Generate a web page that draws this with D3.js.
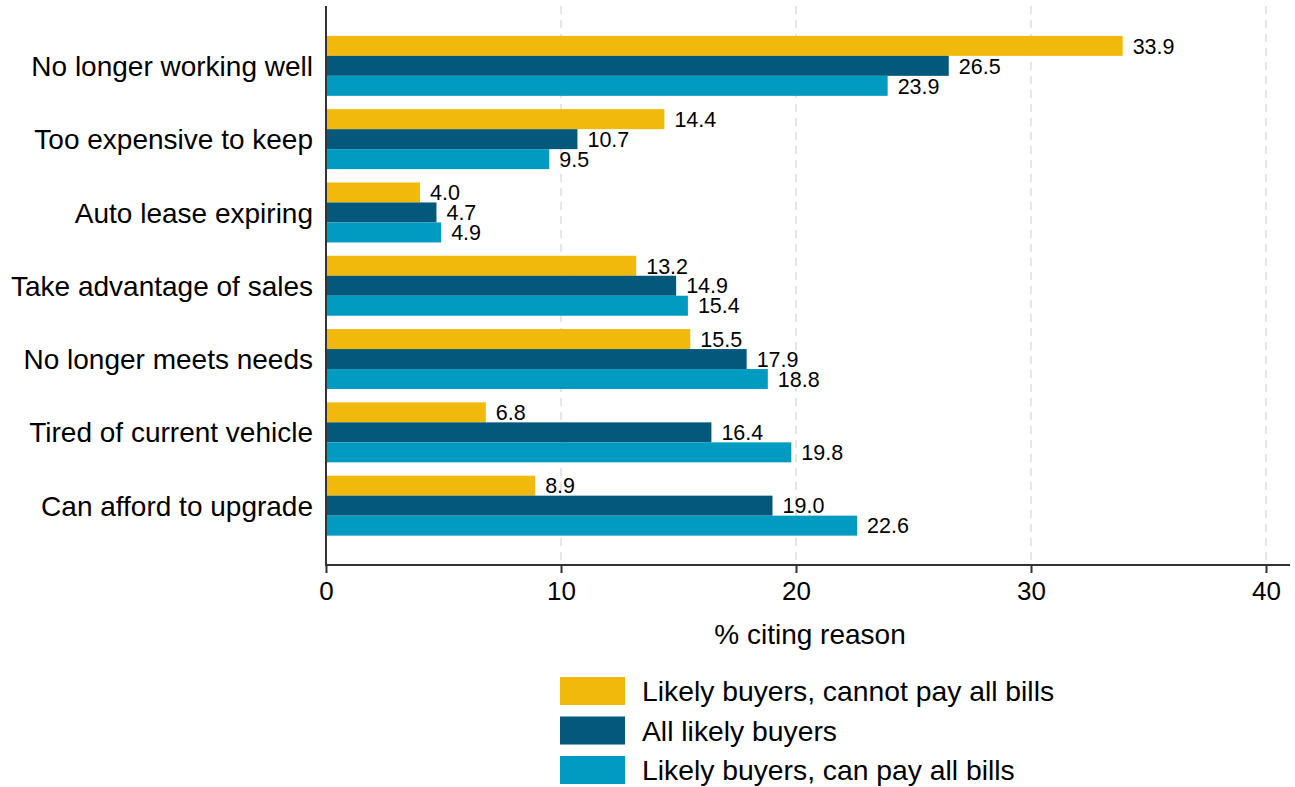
<!DOCTYPE html>
<html>
<head>
<meta charset="utf-8">
<script src="https://cdn.jsdelivr.net/npm/d3@7"></script>
<style>
  html, body { margin: 0; padding: 0; background: #fff; }
  svg { display: block; }
  text { font-family: "Liberation Sans", Arial, sans-serif; fill: #000; }
</style>
</head>
<body>
<svg id="chart" width="1295" height="787"></svg>
<script>
const categories = ["No longer working well", "Too expensive to keep", "Auto lease expiring",
  "Take advantage of sales", "No longer meets needs", "Tired of current vehicle", "Can afford to upgrade"];
const seriesNames = ["Likely buyers, cannot pay all bills", "All likely buyers", "Likely buyers, can pay all bills"];
const cannotPay = [33.9, 14.4, 4.0, 13.2, 15.5, 6.8, 8.9];
const allBuyers = [26.5, 10.7, 4.7, 14.9, 17.9, 16.4, 19.0];
const canPay = [23.9, 9.5, 4.9, 15.4, 18.8, 19.8, 22.6];
const xTicks = [0, 10, 20, 30, 40];
const colors = ["#F0B90C", "#03587B", "#019AC0"];

const seriesValues = [cannotPay, allBuyers, canPay];
const svg = d3.select("#chart");

const x = d3.scaleLinear().domain([0, 40]).range([326, 1266]);
const y = d3.scaleBand().domain(categories).range([29.2, 542.3]).paddingInner(0.182).paddingOuter(0.091);
const ySub = d3.scaleBand().domain(d3.range(3)).range([0, y.bandwidth()]);
const plotTop = 6, plotBottom = 565;

// grid lines
svg.append("g").selectAll("line").data(xTicks.filter(d => d > 0)).join("line")
  .attr("x1", d => x(d)).attr("x2", d => x(d))
  .attr("y1", plotTop).attr("y2", plotBottom)
  .attr("stroke", "#e6e6e6").attr("stroke-width", 2).attr("stroke-dasharray", "8,6");

// bars
const groups = svg.append("g").selectAll("g").data(categories).join("g")
  .attr("transform", d => `translate(0,${y(d)})`);
groups.each(function(cat, ci) {
  const g = d3.select(this);
  seriesValues.forEach((vals, si) => {
    const v = vals[ci];
    g.append("rect")
      .attr("x", x(0)).attr("y", ySub(si))
      .attr("width", x(v) - x(0)).attr("height", ySub.bandwidth())
      .attr("fill", colors[si]);
    g.append("text")
      .attr("x", x(v) + 10).attr("y", ySub(si) + ySub.bandwidth() / 2)
      .attr("dy", "0.36em")
      .attr("font-size", 21.5)
      .text(v.toFixed(1));
  });
});

// category labels
svg.append("g").selectAll("text").data(categories).join("text")
  .attr("x", 313).attr("y", d => y(d) + y.bandwidth() / 2)
  .attr("dy", "0.36em").attr("text-anchor", "end")
  .attr("font-size", 28)
  .text(d => d);

// y axis line
svg.append("line").attr("x1", 326).attr("x2", 326).attr("y1", plotTop).attr("y2", plotBottom)
  .attr("stroke", "#333").attr("stroke-width", 2);

// x axis
const xAxis = d3.axisBottom(x).tickValues(xTicks).tickSize(8).tickPadding(9).tickSizeOuter(0);
const ax = svg.append("g").attr("transform", `translate(0,${plotBottom})`).call(xAxis);
ax.select(".domain").remove();
ax.append("line").attr("x1", 325).attr("x2", 1290).attr("y1", 0).attr("y2", 0)
  .attr("stroke", "#333").attr("stroke-width", 2);
ax.selectAll(".tick line").attr("stroke", "#333").attr("stroke-width", 2);
ax.selectAll(".tick text").attr("font-size", 26).attr("fill", "#000")
  .attr("font-family", "Liberation Sans, Arial, sans-serif");

svg.append("text").attr("x", 810).attr("y", 634).attr("dy", "0.36em")
  .attr("text-anchor", "middle").attr("font-size", 28).text("% citing reason");

// legend
const legend = svg.append("g").selectAll("g").data(seriesNames).join("g")
  .attr("transform", (d, i) => `translate(560,${677 + i * 39.5})`);
legend.append("rect").attr("width", 65).attr("height", 28).attr("fill", (d, i) => colors[i]);
legend.append("text").attr("x", 82).attr("y", 14).attr("dy", "0.36em")
  .attr("font-size", 28.3).text(d => d);
</script>
</body>
</html>
